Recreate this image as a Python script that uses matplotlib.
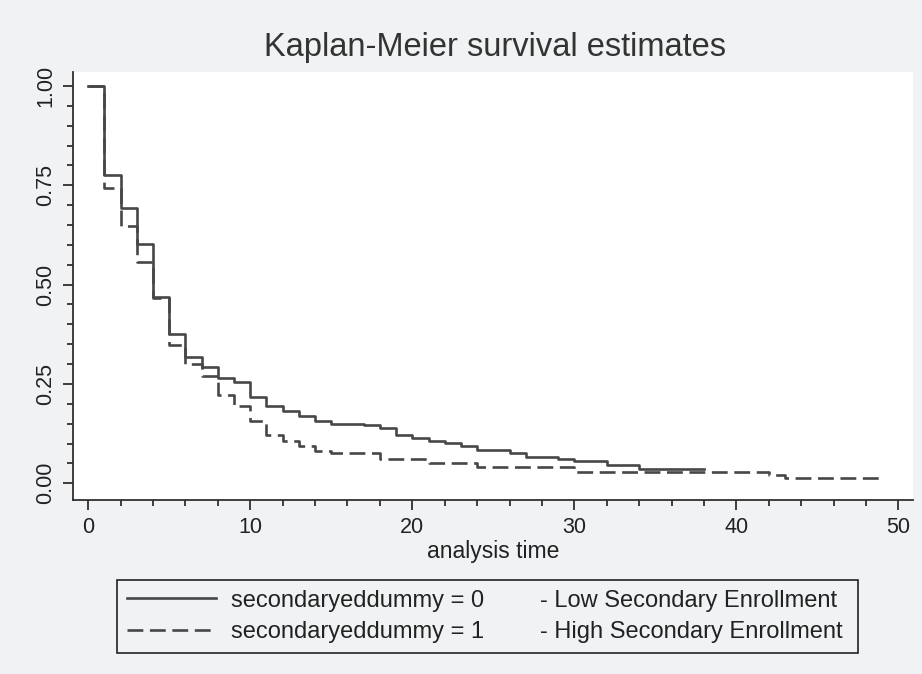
import numpy as np
import matplotlib
matplotlib.use("Agg")
import matplotlib.pyplot as plt
from matplotlib.ticker import MultipleLocator, FormatStrFormatter

# Kaplan-Meier step values
times0 = [0, 1, 2, 3, 4, 5, 6, 7, 8, 9, 10, 11, 12, 13, 14, 15, 17, 18, 19, 20,
          21, 22, 23, 24, 26, 27, 29, 30, 32, 34]
surv0 = [1.0, 0.776, 0.693, 0.603, 0.468, 0.375, 0.317, 0.293, 0.266, 0.254,
         0.217, 0.194, 0.181, 0.169, 0.156, 0.150, 0.146, 0.138, 0.121, 0.114,
         0.107, 0.101, 0.095, 0.083, 0.075, 0.066, 0.060, 0.055, 0.046, 0.037]
end0 = 38

times1 = [0, 1, 2, 3, 4, 5, 6, 7, 8, 9, 10, 11, 12, 13, 14, 15, 18, 21, 24, 30,
          42, 43]
surv1 = [1.0, 0.742, 0.648, 0.556, 0.465, 0.349, 0.299, 0.270, 0.222, 0.194,
         0.156, 0.121, 0.107, 0.094, 0.082, 0.076, 0.061, 0.052, 0.040, 0.029,
         0.022, 0.013]
end1 = 49

group_labels = ["secondaryeddummy = 0", "secondaryeddummy = 1"]
group_desc = ["- Low Secondary Enrollment", "- High Secondary Enrollment"]

plt.rcParams['font.family'] = ['Liberation Sans', 'DejaVu Sans']

BG = '#f0f2f3'
LINE = '#474747'
AX = '#303030'
TXT = '#222222'


def km_xy(times, surv, end):
    # extend last step to end of follow-up
    return list(times) + [end], list(surv) + [surv[-1]]


def main():
    fig = plt.figure(figsize=(9.22, 6.74), dpi=100, facecolor=BG)
    ax = fig.add_axes([0.0792, 0.2582, 0.911, 0.635])
    ax.set_facecolor('white')

    x0, y0 = km_xy(times0, surv0, end0)
    x1, y1 = km_xy(times1, surv1, end1)
    h0, = ax.step(x0, y0, where='post', color=LINE, lw=1.9)
    h1, = ax.step(x1, y1, where='post', color=LINE, lw=1.9,
                  linestyle=(0, (6.0, 2.5)))

    ax.set_xlim(-0.94, 50.9)
    ax.set_ylim(-0.042, 1.035)

    for s in ['top', 'right']:
        ax.spines[s].set_visible(False)
    for s in ['left', 'bottom']:
        ax.spines[s].set_color(AX)
        ax.spines[s].set_linewidth(1.3)

    ax.xaxis.set_major_locator(MultipleLocator(10))
    ax.xaxis.set_minor_locator(MultipleLocator(2))
    ax.yaxis.set_major_locator(MultipleLocator(0.25))
    ax.yaxis.set_minor_locator(MultipleLocator(0.05))
    ax.yaxis.set_major_formatter(FormatStrFormatter('%.2f'))

    ax.tick_params(which='major', length=7, width=1.3, color=AX,
                   labelsize=15.5, labelcolor=TXT, pad=5)
    ax.tick_params(which='minor', length=4, width=1.3, color=AX)
    for lab in ax.get_yticklabels():
        lab.set_rotation(90)
        lab.set_va('center')

    ax.set_xlabel('analysis time', fontsize=16.5, color=TXT, labelpad=2)
    fig.suptitle('Kaplan-Meier survival estimates', x=495 / 922, y=0.952,
                 fontsize=23.5, color='#333333')

    leg = fig.legend([h0, h1], group_labels, loc='upper left',
                     bbox_to_anchor=(0.1269, 0.1395, 0.8037, 0.0),
                     mode='expand', borderaxespad=0, fontsize=17,
                     handlelength=3.8, handletextpad=0.62, labelspacing=0.4,
                     borderpad=0.41, fancybox=False, framealpha=1,
                     facecolor=BG, edgecolor=TXT)
    leg.get_frame().set_linewidth(1.2)
    for t in leg.get_texts():
        t.set_color(TXT)

    # description column next to the legend labels
    fig.canvas.draw()
    inv = fig.transFigure.inverted()
    for t, desc in zip(leg.get_texts(), group_desc):
        bb = t.get_window_extent()
        yc = inv.transform(((bb.x0 + bb.x1) / 2, (bb.y0 + bb.y1) / 2))[1]
        fig.text(540 / 922, yc, desc, fontsize=17, color=TXT,
                 va='center', ha='left', zorder=10)

    fig.savefig('out.png', dpi=100, facecolor=BG)


if __name__ == "__main__":
    main()
